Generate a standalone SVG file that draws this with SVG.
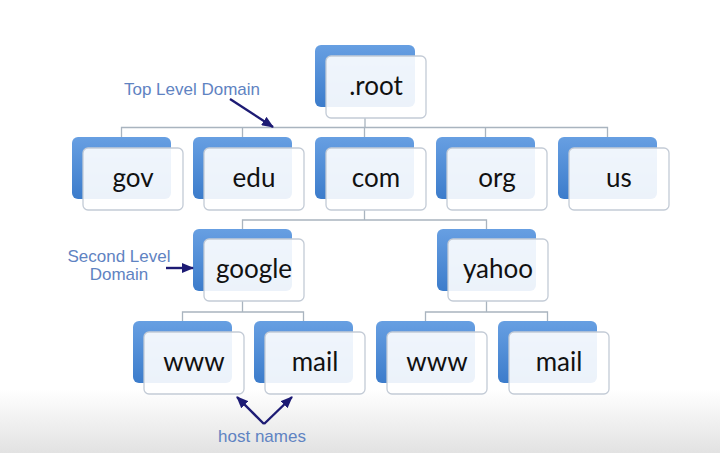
<svg xmlns="http://www.w3.org/2000/svg" width="720" height="453" viewBox="0 0 720 453">
<defs>
<linearGradient id="bg" x1="0" y1="0" x2="0" y2="1">
<stop offset="0" stop-color="#ffffff"/>
<stop offset="0.86" stop-color="#ffffff"/>
<stop offset="1" stop-color="#e2e2e2"/>
</linearGradient>
<linearGradient id="blue" x1="0" y1="0" x2="0" y2="1">
<stop offset="0" stop-color="#679fe2"/>
<stop offset="1" stop-color="#3c7ccb"/>
</linearGradient>
<marker id="ah" markerUnits="userSpaceOnUse" markerWidth="12" markerHeight="10" refX="11" refY="5" orient="auto">
<path d="M0,0 L12,5 L0,10 z" fill="#1d1b74"/>
</marker>
<style>
.back{fill:url(#blue);}
.front{fill:#ffffff;fill-opacity:0.9;stroke:#c3cbd6;stroke-width:1.3;}
.t{font-family:Lato,"Liberation Sans",sans-serif;font-size:26px;fill:#111111;text-anchor:middle;}
.lbl{font-family:"Liberation Sans",Arial,sans-serif;font-size:17px;fill:#5f83c2;text-anchor:middle;}
.conn{fill:none;stroke:#a9b4bf;stroke-width:1.3;}
.arr{fill:none;stroke:#1d1b74;stroke-width:2.4;marker-end:url(#ah);}
</style>
</defs>
<rect x="0" y="0" width="720" height="453" fill="url(#bg)"/>

<g id="connectors">
<path class="conn" d="M365,118 V127.5 M121.5,137 V127.5 H607.5 V137 M242.5,127.5 V137 M364.5,127.5 V137 M485.5,127.5 V137"/>
<path class="conn" d="M364.5,210 V220 M242.5,229 V220 H486.5 V229"/>
<path class="conn" d="M242.5,301 V312 M182.5,321 V312 H303.5 V321"/>
<path class="conn" d="M486.5,301 V312 M425.5,321 V312 H547.5 V321"/>
</g>

<g id="root">
<rect class="back" x="315" y="45" width="100" height="62" rx="6"/>
<rect class="front" x="326" y="56" width="100" height="62" rx="5"/>
<text class="t" x="376" y="95">.root</text>
</g>
<g id="gov">
<rect class="back" x="72" y="137" width="99" height="62" rx="6"/>
<rect class="front" x="83" y="148" width="100" height="62" rx="5"/>
<text class="t" x="133" y="187">gov</text>
</g>
<g id="edu">
<rect class="back" x="193" y="137" width="99" height="62" rx="6"/>
<rect class="front" x="204" y="148" width="100" height="62" rx="5"/>
<text class="t" x="254" y="187">edu</text>
</g>
<g id="com">
<rect class="back" x="315" y="137" width="99" height="62" rx="6"/>
<rect class="front" x="326" y="148" width="100" height="62" rx="5"/>
<text class="t" x="376" y="187">com</text>
</g>
<g id="org">
<rect class="back" x="436" y="137" width="99" height="62" rx="6"/>
<rect class="front" x="447" y="148" width="100" height="62" rx="5"/>
<text class="t" x="497" y="187">org</text>
</g>
<g id="us">
<rect class="back" x="558" y="137" width="99" height="62" rx="6"/>
<rect class="front" x="569" y="148" width="100" height="62" rx="5"/>
<text class="t" x="619" y="187">us</text>
</g>
<g id="google">
<rect class="back" x="193" y="229" width="99" height="62" rx="6"/>
<rect class="front" x="204" y="239" width="100" height="62" rx="5"/>
<text class="t" x="254" y="278">google</text>
</g>
<g id="yahoo">
<rect class="back" x="437" y="229" width="99" height="62" rx="6"/>
<rect class="front" x="448" y="239" width="100" height="62" rx="5"/>
<text class="t" x="498" y="278">yahoo</text>
</g>
<g id="google-www">
<rect class="back" x="133" y="321" width="99" height="62" rx="6"/>
<rect class="front" x="144" y="332" width="100" height="62" rx="5"/>
<text class="t" x="194" y="371">www</text>
</g>
<g id="google-mail">
<rect class="back" x="254" y="321" width="99" height="62" rx="6"/>
<rect class="front" x="265" y="332" width="100" height="62" rx="5"/>
<text class="t" x="315" y="371">mail</text>
</g>
<g id="yahoo-www">
<rect class="back" x="376" y="321" width="99" height="62" rx="6"/>
<rect class="front" x="387" y="332" width="100" height="62" rx="5"/>
<text class="t" x="437" y="371">www</text>
</g>
<g id="yahoo-mail">
<rect class="back" x="498" y="321" width="99" height="62" rx="6"/>
<rect class="front" x="509" y="332" width="100" height="62" rx="5"/>
<text class="t" x="559" y="371">mail</text>
</g>

<g id="annotations">
<text class="lbl" x="192" y="95">Top Level Domain</text>
<path class="arr" d="M230,99 L273,127"/>
<text class="lbl" x="119" y="262">Second Level</text>
<text class="lbl" x="119" y="280">Domain</text>
<path class="arr" d="M166,268 L193,268"/>
<path class="arr" d="M264,424 L237,397"/>
<path class="arr" d="M264,424 L292,397"/>
<text class="lbl" x="262" y="442">host names</text>
</g>
</svg>
